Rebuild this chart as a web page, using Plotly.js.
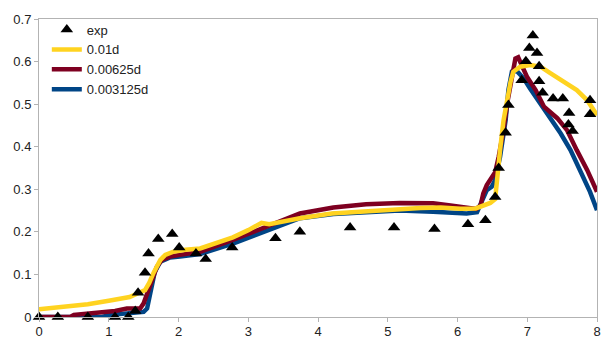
<!DOCTYPE html>
<html>
<head>
<meta charset="utf-8">
<script src="https://cdn.plot.ly/plotly-3.0.1.min.js"></script>
<style>html,body{margin:0;padding:0;background:#fff;}#chart{width:605px;height:340px;}</style>
</head>
<body>
<div id="chart"></div>
<script>
// Experimental points
const expX = [0, 0.27, 0.70, 1.09, 1.28, 1.38, 1.42, 1.52, 1.57, 1.71, 1.91, 2.01, 2.25, 2.39, 2.77, 3.39, 3.74, 4.46, 5.09, 5.67, 6.15, 6.40, 6.54, 6.59, 6.69, 6.73, 6.92, 6.98, 7.03, 7.08, 7.14, 7.17, 7.17, 7.22, 7.37, 7.51, 7.60, 7.59, 7.65, 7.90, 7.90];
const expY = [0, 0, 0, 0, 0, 0.014, 0.057, 0.104, 0.149, 0.183, 0.195, 0.163, 0.149, 0.136, 0.163, 0.185, 0.20, 0.21, 0.21, 0.207, 0.218, 0.227, 0.282, 0.350, 0.433, 0.498, 0.556, 0.601, 0.632, 0.661, 0.62, 0.589, 0.554, 0.527, 0.513, 0.513, 0.479, 0.452, 0.437, 0.509, 0.476];

// 0.01d
const d01X = [0, 0.4, 0.7, 1.0, 1.3, 1.45, 1.52, 1.58, 1.64, 1.74, 1.81, 1.92, 2.1, 2.31, 2.78, 3.0, 3.19, 3.3, 3.5, 3.74, 4.2, 4.46, 4.89, 5.17, 5.47, 5.76, 6.04, 6.26, 6.37, 6.47, 6.54, 6.57, 6.61, 6.66, 6.71, 6.76, 6.8, 6.9, 7.04, 7.19, 7.33, 7.52, 7.71, 7.86, 8.0];
const d01Y = [0.018, 0.024, 0.03, 0.038, 0.047, 0.058, 0.063, 0.08, 0.103, 0.134, 0.146, 0.153, 0.158, 0.161, 0.187, 0.204, 0.221, 0.218, 0.224, 0.232, 0.243, 0.246, 0.251, 0.252, 0.256, 0.257, 0.254, 0.255, 0.263, 0.268, 0.277, 0.338, 0.392, 0.462, 0.513, 0.552, 0.576, 0.588, 0.592, 0.588, 0.573, 0.552, 0.533, 0.509, 0.474];

// 0.00625d
const d00625X = [0, 0.45, 0.5, 0.87, 1.09, 1.26, 1.45, 1.5, 1.57, 1.62, 1.69, 1.76, 1.88, 2.02, 2.31, 2.78, 3.27, 3.74, 4.22, 4.69, 5.17, 5.65, 5.9, 6.27, 6.33, 6.37, 6.42, 6.5, 6.54, 6.59, 6.66, 6.72, 6.78, 6.83, 6.87, 6.92, 7.0, 7.12, 7.24, 7.43, 7.57, 7.71, 7.86, 8.0];
const d00625Y = [0, 0, 0.005, 0.009, 0.014, 0.02, 0.02, 0.032, 0.063, 0.087, 0.118, 0.134, 0.142, 0.146, 0.153, 0.181, 0.212, 0.243, 0.257, 0.265, 0.268, 0.267, 0.262, 0.254, 0.262, 0.29, 0.31, 0.328, 0.34, 0.376, 0.439, 0.509, 0.563, 0.607, 0.61, 0.592, 0.563, 0.533, 0.494, 0.467, 0.439, 0.392, 0.345, 0.294];

// 0.003125d
const d003125X = [0, 0.9, 1.02, 1.26, 1.5, 1.55, 1.58, 1.62, 1.66, 1.74, 1.88, 2.02, 2.31, 2.79, 3.27, 3.74, 4.22, 4.69, 5.17, 5.65, 6.13, 6.28, 6.33, 6.42, 6.49, 6.54, 6.61, 6.69, 6.73, 6.78, 6.85, 6.95, 7.04, 7.19, 7.33, 7.48, 7.62, 7.76, 7.9, 8.0];
const d003125Y = [0, 0, 0.005, 0.009, 0.012, 0.02, 0.044, 0.071, 0.106, 0.13, 0.14, 0.142, 0.148, 0.173, 0.203, 0.232, 0.242, 0.247, 0.25, 0.247, 0.243, 0.246, 0.267, 0.298, 0.306, 0.322, 0.376, 0.462, 0.533, 0.576, 0.578, 0.56, 0.537, 0.502, 0.467, 0.431, 0.392, 0.345, 0.294, 0.251];

const names = ['exp', '0.01d', '0.00625d', '0.003125d'];
const xTicks = [0, 1, 2, 3, 4, 5, 6, 7, 8];
const yTicks = [0, 0.1, 0.2, 0.3, 0.4, 0.5, 0.6, 0.7];
const yTickText = ['0', '0.1', '0.2', '0.3', '0.4', '0.5', '0.6', '0.7'];

const lineW = 4.5;
const traces = [
  {x: d003125X, y: d003125Y, name: names[3], mode: 'lines', line: {color: '#004586', width: lineW}, legendrank: 4},
  {x: d00625X, y: d00625Y, name: names[2], mode: 'lines', line: {color: '#7e0021', width: lineW}, legendrank: 3},
  {x: d01X, y: d01Y, name: names[1], mode: 'lines', line: {color: '#ffd320', width: lineW}, legendrank: 2},
  {x: expX, y: expY, name: names[0], mode: 'markers', cliponaxis: false,
   marker: {symbol: 'triangle-up', size: 11, color: '#000000'}, legendrank: 1}
];

const axisCommon = {
  showgrid: false, zeroline: false, showline: true, mirror: true,
  linecolor: '#b3b3b3', linewidth: 1, ticks: 'outside', tickcolor: '#b3b3b3',
  tickfont: {family: 'Liberation Sans, Arial, sans-serif', size: 13, color: '#222222'}
};

const layout = {
  width: 605, height: 340,
  margin: {l: 39, r: 8, t: 19, b: 23, pad: 0},
  paper_bgcolor: '#ffffff', plot_bgcolor: '#ffffff',
  showlegend: true,
  legend: {x: 0.014, y: 1.015, xanchor: 'left', yanchor: 'top', bgcolor: 'rgba(0,0,0,0)',
    font: {family: 'Liberation Sans, Arial, sans-serif', size: 13, color: '#222222'}, tracegroupgap: 0},
  xaxis: Object.assign({}, axisCommon, {range: [0, 8], tickvals: xTicks, ticklen: 4, ticklabelstandoff: -2}),
  yaxis: Object.assign({}, axisCommon, {range: [0, 0.7], tickvals: yTicks, ticktext: yTickText, ticklen: 4})
};

Plotly.newPlot('chart', traces, layout, {staticPlot: true, displayModeBar: false});
</script>
</body>
</html>
